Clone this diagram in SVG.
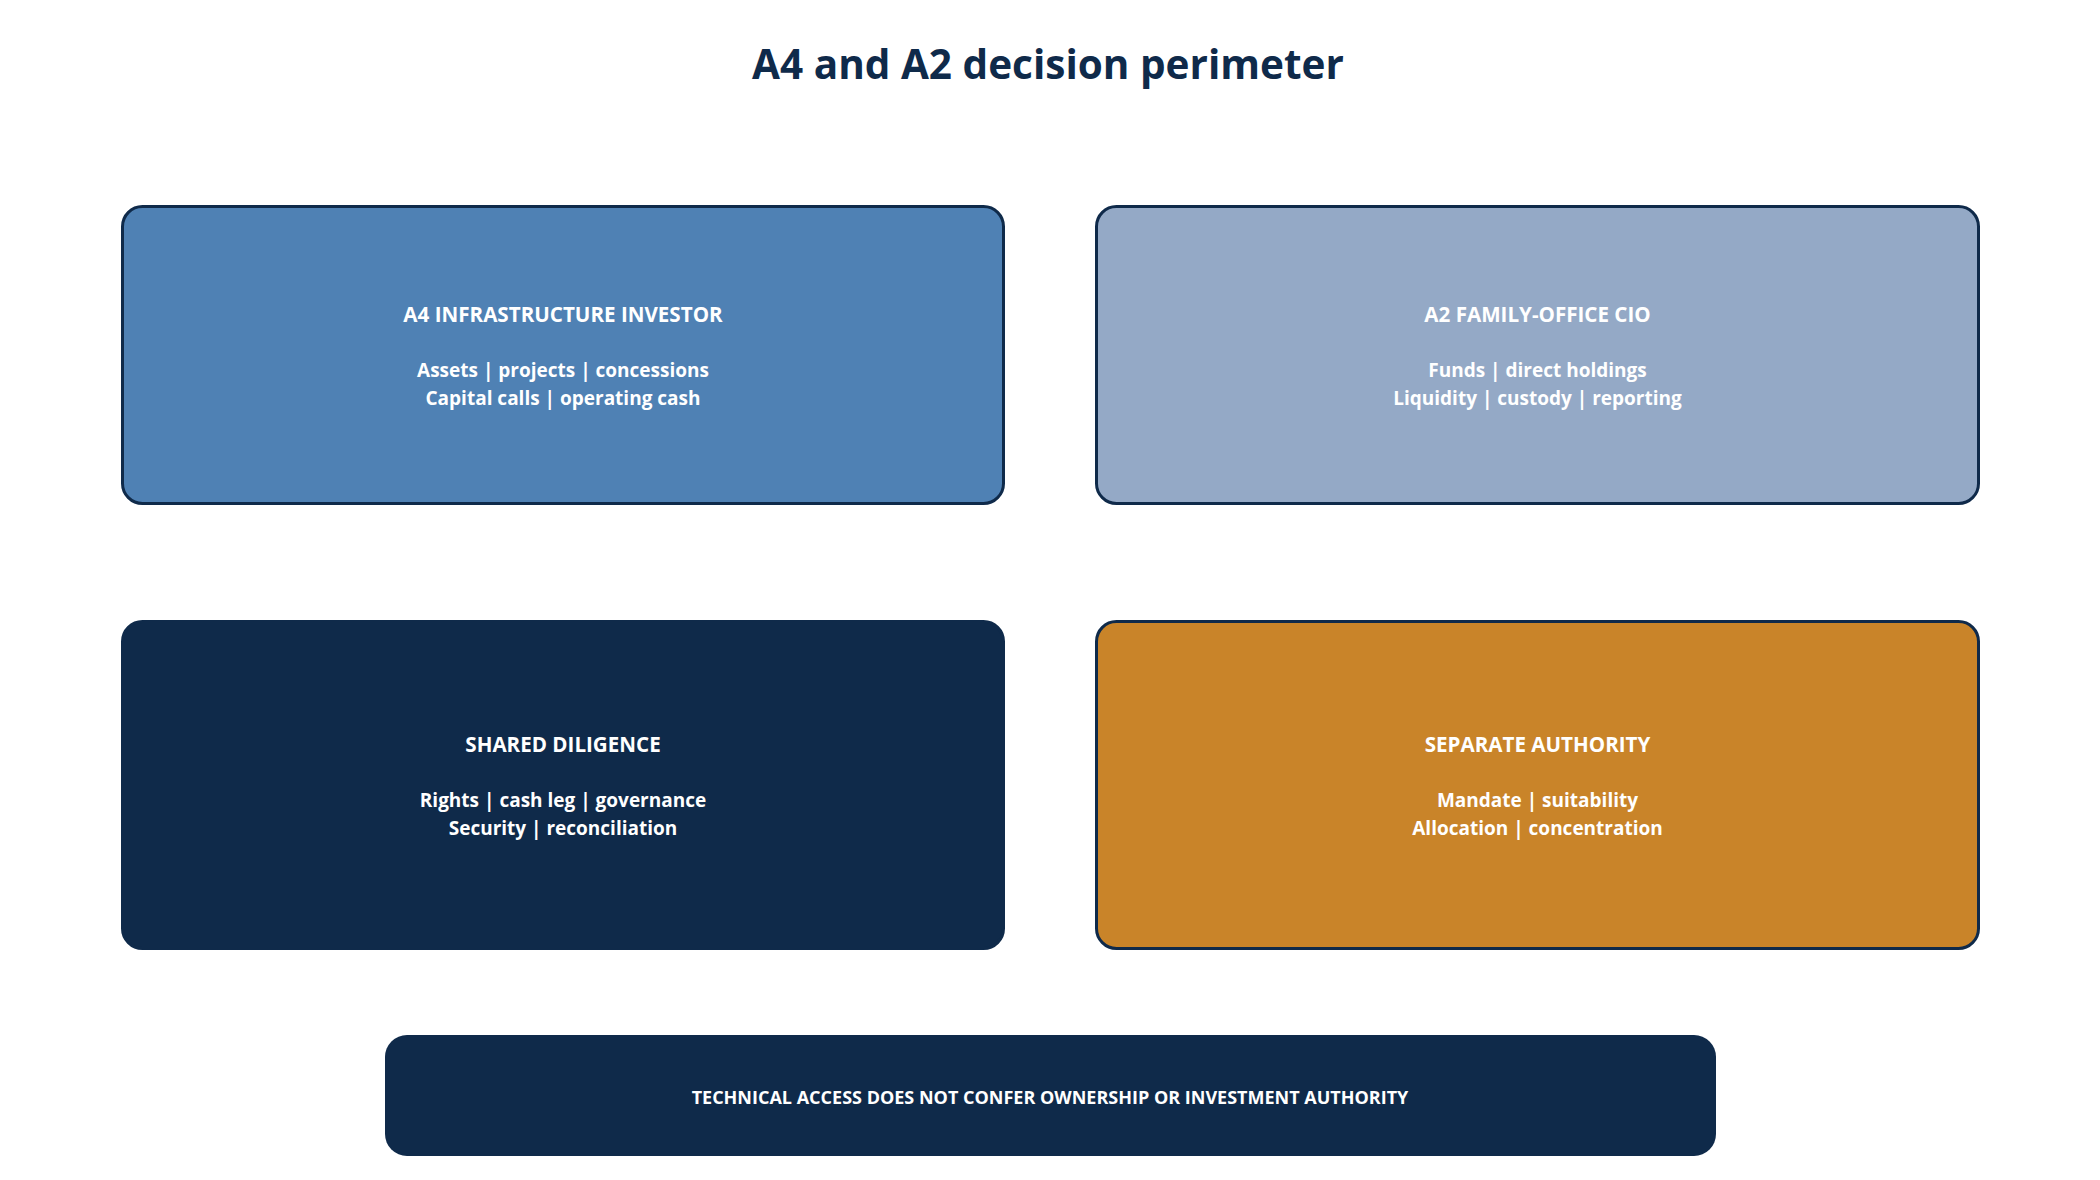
<svg xmlns="http://www.w3.org/2000/svg" width="2100" height="1180" viewBox="0 0 2100 1180">
  <style>
    .box { stroke: #0F2A4A; stroke-width: 3; }
    .t { font-family: "Open Sans", "Noto Sans", "Liberation Sans", sans-serif; font-weight: 700; fill: #FFFFFF; text-anchor: middle; }
    .h { font-size: 20.6px; }
    .b { font-size: 19px; }
    .title { font-family: "Open Sans", "Noto Sans", "Liberation Sans", sans-serif; font-weight: 700; font-size: 40.5px; fill: #0F2A4A; text-anchor: middle; }
  </style>
  <rect width="2100" height="1180" fill="#FFFFFF"/>
  <text id="title" class="title" x="1048" y="79">A4 and A2 decision perimeter</text>
  <g id="connectors"></g>
  <g id="a4">
    <rect class="box" x="122.5" y="206.5" width="881" height="297" rx="20" fill="#4F81B4"/>
    <text class="t h" x="563" y="322">A4 INFRASTRUCTURE INVESTOR</text>
    <text class="t b" x="563" y="377">Assets | projects | concessions</text>
    <text class="t b" x="563" y="405">Capital calls | operating cash</text>
  </g>
  <g id="a2">
    <rect class="box" x="1096.5" y="206.5" width="882" height="297" rx="20" fill="#94A9C6"/>
    <text class="t h" x="1537.5" y="322">A2 FAMILY-OFFICE CIO</text>
    <text class="t b" x="1537.5" y="377">Funds | direct holdings</text>
    <text class="t b" x="1537.5" y="405">Liquidity | custody | reporting</text>
  </g>
  <g id="shared">
    <rect class="box" x="122.5" y="621.5" width="881" height="327" rx="20" fill="#0F2A4A"/>
    <text class="t h" x="563" y="752">SHARED DILIGENCE</text>
    <text class="t b" x="563" y="807">Rights | cash leg | governance</text>
    <text class="t b" x="563" y="835">Security | reconciliation</text>
  </g>
  <g id="separate">
    <rect class="box" x="1096.5" y="621.5" width="882" height="327" rx="20" fill="#C98429"/>
    <text class="t h" x="1537.5" y="752">SEPARATE AUTHORITY</text>
    <text class="t b" x="1537.5" y="807">Mandate | suitability</text>
    <text class="t b" x="1537.5" y="835">Allocation | concentration</text>
  </g>
  <g id="note">
    <rect x="385" y="1035" width="1331" height="121" rx="22" fill="#0F2A4A"/>
    <text class="t" x="1050" y="1104" font-size="18">TECHNICAL ACCESS DOES NOT CONFER OWNERSHIP OR INVESTMENT AUTHORITY</text>
  </g>
</svg>
